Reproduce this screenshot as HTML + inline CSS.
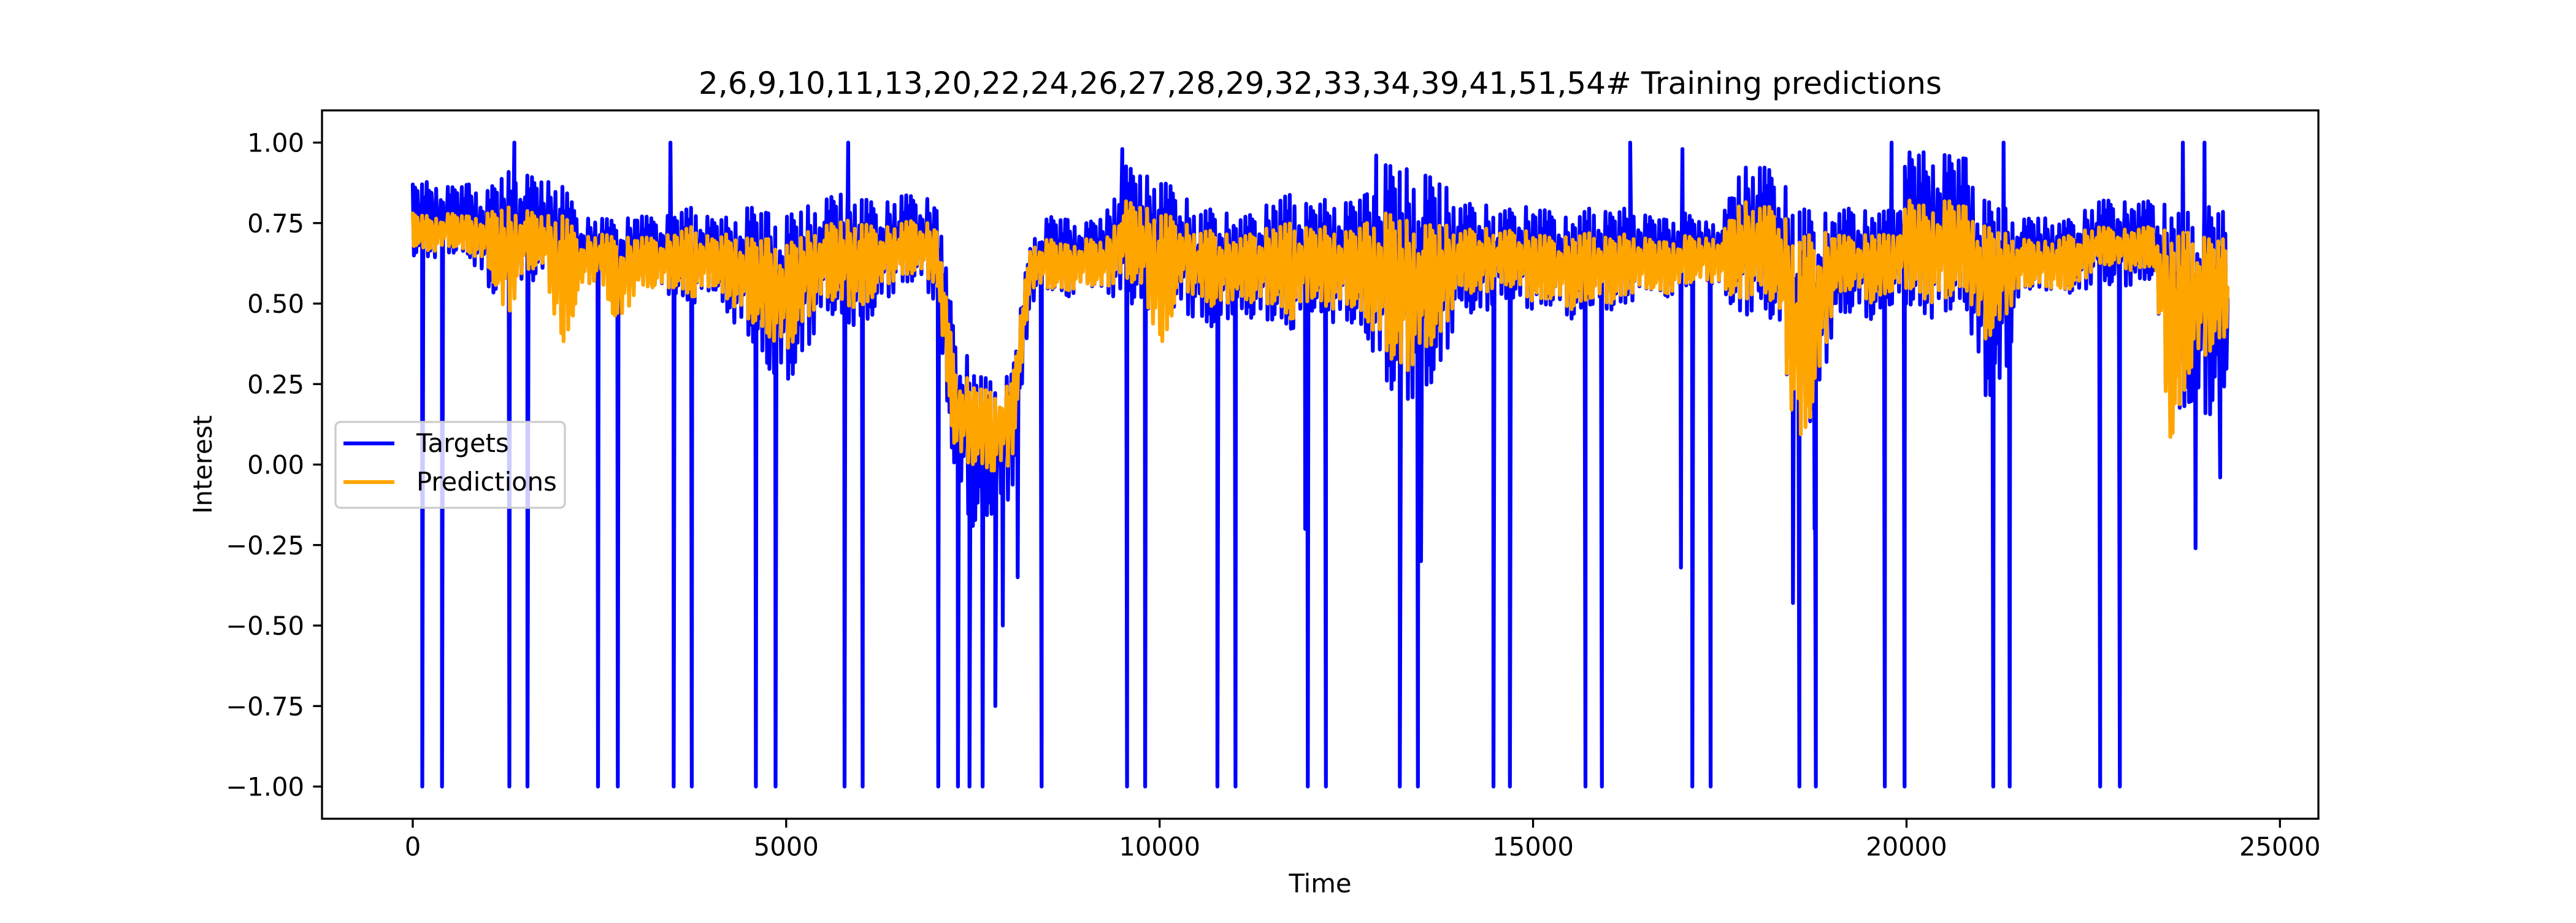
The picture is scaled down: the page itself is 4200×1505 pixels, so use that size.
<!DOCTYPE html>
<html><head><meta charset="utf-8"><style>
html,body{margin:0;padding:0;background:#fff;}
svg text{font-family:"DejaVu Sans","Liberation Sans",sans-serif;fill:#000;}
</style></head><body>
<svg id="chart" width="4200" height="1500" viewBox="0 0 4200 1500" xmlns="http://www.w3.org/2000/svg">
<rect width="4200" height="1500" fill="#fff"/>
<g id="series"></g>
<g id="axes"></g>
</svg>
<script>
const binStep = 250;
const tHi = [.87,.88,.86,.87, .85,.91,.90,.88,.87, .76,.77,.75,.78,.76, .78,.80,.76,.77, .80,.78,.77,.80, .82,.85,.83,.80, .84,.83,.82, .40, .30,.25,.28, .70, .77,.76,.75,.77, .93,.90,.88,.85, .78,.80,.76,.78, .82,.84,.80,.83,.81,.84, .93,.92,.90,.88, .80,.82,.78,.80, .80,.78,.76,.80,.78,.80, .77,.76,.78,.75,.77, .92,.93,.90, .80,.78, .78,.80,.78,.79, .97,.97,.96,.95, .82,.80, .76,.77,.75,.77, .82,.82,.81,.82, .80,.78,.80,.78];
const tLo = [.65,.64,.66,.65, .55,.50,.55,.60,.50, .55,.58,.48,.56,.55, .52,.50,.55,.45, .40,.30,.25,.35, .48,.45,.42,.50, .55,.58,.50, -.05, -.20,-.15,-.10, .50, .55,.52,.56,.54, .50,.50,.45,.48, .45,.42,.48,.45, .45,.42,.48,.44,.45,.40, .25,.20,.22,.30, .50,.45,.52,.50, .48,.50,.45,.50,.48,.50, .55,.52,.55,.58,.54, .45,.50,.42, .10,.15, .45,.48,.45,.50, .50,.45,.48,.50, .20,.25, .55,.54,.55,.52, .58,.55,.56,.58, .10,.20,.15,.25];
const pHi = [.78,.77,.78,.77, .78,.80,.79,.77,.78, .70,.72,.70,.71,.70, .72,.74,.70,.72, .70,.70,.68,.72, .74,.76,.75,.73, .75,.76,.74, .30, .25,.22,.25, .68, .70,.68,.70,.69, .82,.80,.78,.76, .72,.73,.70,.72, .74,.75,.73,.74,.72,.75, .78,.76,.74,.75, .72,.74,.72,.73, .72,.70,.71,.72,.70,.72, .70,.69,.71,.70,.72, .82,.80,.80, .70,.72, .72,.70,.72,.71, .82,.80,.82,.80, .74,.72, .70,.69,.70,.72, .74,.73,.73,.74, .72,.72,.70,.70];
const pLo = [.68,.66,.68,.66, .62,.45,.60,.62,.35, .55,.58,.42,.55,.55, .55,.52,.56,.50, .45,.40,.35,.45, .52,.50,.48,.55, .58,.60,.56, .02, .00,-.02,.00, .55, .55,.54,.56,.55, .58,.55,.35,.55, .52,.48,.52,.50, .50,.45,.52,.48,.50,.45, .35,.28,.35,.40, .55,.52,.56,.55, .50,.52,.48,.52,.50,.53, .55,.53,.56,.58,.55, .50,.55,.48, .03,.20, .52,.55,.50,.54, .55,.50,.52,.55, .38,.45, .55,.56,.54,.55, .62,.62,.60,.62, .05,.30,.35,.40];
const spikeT = [128,392,1294,1536,2480,2746,3494,3736,4594,4858,5782,6024,7036,7300,7454,7630,8420,9564,9806,10774,11016,11984,12226,13216,13458,14470,14690,15702,15922,17132,17378,18566,18786,19710,19974,21162,21382,22593,22857];
const spikeV = [-1,-1,-1,-1,-1,-1,-1,-1,-1,-1,-1,-1,-1,-1,-1,-1,-1,-1,-1,-1,-1,-1,-1,-1,-1,-1,-1,-1,-1,-1,-1,-1,-1,-1,-1,-1,-1,-1,-1];
const dipT = [7800,7900,8100,16980,18480,18770,23870,24200,13500,11950];
const dipV = [-0.75,-0.5,-0.35,-0.32,-0.43,-0.2,-0.26,-0.04,-0.3,-0.2];
const peakT = [1360,3450,5830,9500,12900,16300,17000,19800,21300,23700,23990];
const peakV = [1,1,1,0.98,0.96,1,0.98,1,1,1,1];
const xTicks = [0,5000,10000,15000,20000,25000];
const yTicks = [-1,-0.75,-0.5,-0.25,0,0.25,0.5,0.75,1];
const yTickLabels = ["−1.00","−0.75","−0.50","−0.25","0.00","0.25","0.50","0.75","1.00"];
const tEnd = 24300;

const L=525,R=3780,T=180,B=1335, xmin=-1215,xmax=25515,ymin=-1.1,ymax=1.1;
const X=t=>L+(t-xmin)/(xmax-xmin)*(R-L);
const Y=v=>B-(v-ymin)/(ymax-ymin)*(B-T);
const NS="http://www.w3.org/2000/svg";
const S=document.getElementById('series'), A=document.getElementById('axes');
function mk(tag,attrs,parent){const e=document.createElementNS(NS,tag);for(const k in attrs)e.setAttribute(k,attrs[k]);parent.appendChild(e);return e;}

// texture pattern (style only): how far each sub-sample backs off from the envelope
const texHi=[0,.25,.05,.4,.1,0,.3,.15,.02,.5,.2,.08,0,.35,.12,.22];
const texLo=[.1,0,.3,.05,.45,.15,0,.25,.6,.05,0,.35,.2,.02,.4,.1];
function zig(hi,lo,extraT,extraV){
  const pts=[]; const sub=16; const n=hi.length;
  const span=tEnd/ (n-1);
  for(let i=0;i<n-1;i++){
    for(let s=0;s<sub;s++){
      const f=s/sub, j=i+1;
      const h=hi[i]+(hi[j]-hi[i])*f, l=lo[i]+(lo[j]-lo[i])*f;
      const t=(i+f)*span;
      const k=(i*7+s)%16;
      pts.push([t,(s%2===0)? h-(h-l)*texHi[k] : l+(h-l)*texLo[k]]);
    }
  }
  pts.push([tEnd,(hi[n-1]+lo[n-1])/2]);
  for(let k=0;k<extraT.length;k++){
    const t=extraT[k]; let idx=pts.findIndex(p=>p[0]>=t); if(idx<0)idx=pts.length;
    pts.splice(idx,0,[t,extraV[k]]);
  }
  return pts.map(p=>X(p[0]).toFixed(1)+','+Y(p[1]).toFixed(1)).join(' ');
}
const allT=[...spikeT,...dipT,...peakT], allV=[...spikeV,...dipV,...peakV];
const tl=mk('polyline',{points:zig(tHi,tLo,allT,allV),fill:'none',stroke:'#0000ff','stroke-width':6.25,'stroke-linejoin':'round','stroke-linecap':'round'},S);


const pl=mk('polyline',{points:zig(pHi,pLo,[],[]),fill:'none',stroke:'#ffa500','stroke-width':6.25,'stroke-linejoin':'round','stroke-linecap':'round'},S);



const fr=mk('rect',{x:L,y:T,width:R-L,height:B-T,fill:'none',stroke:'#000','stroke-width':3.3},A);


xTicks.forEach(v=>{
  const g=mk('g',{},A);
  
  
  mk('line',{x1:X(v),x2:X(v),y1:B,y2:B+14.6,stroke:'#000','stroke-width':3.3},g);
  const t=mk('text',{x:X(v),y:B+60,'text-anchor':'middle','font-size':41.7},g); t.textContent=String(v);
});
yTicks.forEach((v,i)=>{
  const g=mk('g',{},A);
  
  
  mk('line',{x1:L-14.6,x2:L,y1:Y(v),y2:Y(v),stroke:'#000','stroke-width':3.3},g);
  const t=mk('text',{x:L-29,y:Y(v)+15,'text-anchor':'end','font-size':41.7},g); t.textContent=yTickLabels[i];
});
const xl=mk('text',{x:(L+R)/2,y:1455,'text-anchor':'middle','font-size':41.7},A); xl.textContent='Time';


const yl=mk('text',{x:0,y:0,'text-anchor':'middle','font-size':41.7,transform:`translate(345,${(T+B)/2}) rotate(-90)`},A); yl.textContent='Interest';


const ti=mk('text',{x:(L+R)/2,y:153,'text-anchor':'middle','font-size':50},A); ti.textContent='2,6,9,10,11,13,20,22,24,26,27,28,29,32,33,34,39,41,51,54# Training predictions';



const lg=mk('g',{},A);


mk('rect',{x:547,y:688,width:374,height:140,rx:8,fill:'#fff','fill-opacity':0.8,stroke:'#cccccc','stroke-width':3.3},lg);
const entries=[['Targets','#0000ff',737],['Predictions','#ffa500',800]];
entries.forEach(e=>{
  const g=mk('g',{},lg);
  
  
  mk('line',{x1:560,x2:643,y1:e[2]-14,y2:e[2]-14,stroke:e[1],'stroke-width':6.25},g);
  const t=mk('text',{x:679,y:e[2],'font-size':41.7},g); t.textContent=e[0];
});
</script>
</body></html>
